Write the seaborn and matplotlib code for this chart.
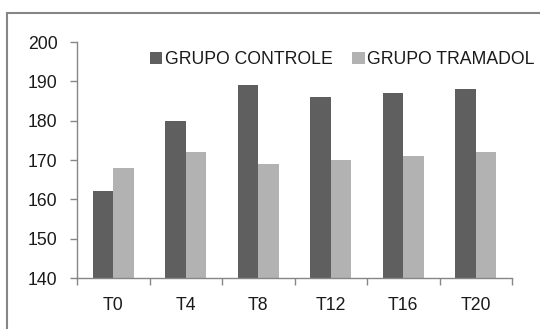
import matplotlib
matplotlib.use("Agg")
import matplotlib.pyplot as plt
from matplotlib.patches import Rectangle
import numpy as np
import pandas as pd
import seaborn as sns

categories = ["T0", "T4", "T8", "T12", "T16", "T20"]
controle = [162, 180, 189, 186, 187, 188]
tramadol = [168, 172, 169, 170, 171, 172]
series_names = ["GRUPO CONTROLE", "GRUPO TRAMADOL"]
y_ticks = [140, 150, 160, 170, 180, 190, 200]

df = pd.DataFrame({
    "tempo": categories * 2,
    "valor": controle + tramadol,
    "grupo": [series_names[0]] * len(categories) + [series_names[1]] * len(categories),
})

sns.set_style("white")
plt.rcParams["font.family"] = ["Liberation Sans", "DejaVu Sans"]

axis_gray = "#868686"
text_color = "#1a1a1a"
palette = {series_names[0]: "#5f5f5f", series_names[1]: "#b2b2b2"}
fs = 12.7

fig = plt.figure(figsize=(5.40, 3.29), dpi=100)
ax = fig.add_axes([77 / 540, 1 - 278 / 329, (512 - 77) / 540, (278 - 42) / 329])

# outer chart frame
fig.patches.append(Rectangle((7 / 540, -0.05), 1.0, 1 - 13 / 329 + 0.05,
                             transform=fig.transFigure, fill=False,
                             edgecolor=axis_gray, linewidth=1.5))

sns.barplot(data=df, x="tempo", y="valor", hue="grupo", order=categories,
            hue_order=series_names, palette=palette, width=0.57,
            saturation=1, linewidth=0, ax=ax, legend=True)

ax.set_ylim(140, 200)
ax.set_yticks(y_ticks)
ax.set_xlim(-0.5, len(categories) - 0.5)
ax.set_xlabel("")
ax.set_ylabel("")

for side in ["top", "right"]:
    ax.spines[side].set_visible(False)
for side in ["left", "bottom"]:
    ax.spines[side].set_color(axis_gray)
    ax.spines[side].set_linewidth(1.0)

ax.tick_params(axis="y", which="major", direction="out", length=5, width=1,
               color=axis_gray, labelsize=fs, labelcolor=text_color, pad=9,
               left=True)
ax.tick_params(axis="x", which="major", length=0, labelsize=fs,
               labelcolor=text_color, pad=14)
ax.set_xticks(np.arange(-0.5, len(categories)), minor=True)
ax.tick_params(axis="x", which="minor", direction="out", length=5, width=1,
               color=axis_gray, bottom=True)

handles, labels = ax.get_legend_handles_labels()
ax.legend(handles, labels, loc="center", bbox_to_anchor=(0.61, 0.924),
          ncol=2, frameon=False, fontsize=fs, handlelength=0.7,
          handleheight=0.7, handletextpad=0.15, columnspacing=1.1,
          borderaxespad=0, borderpad=0, labelcolor=text_color)

fig.savefig("out.png", dpi=100)
